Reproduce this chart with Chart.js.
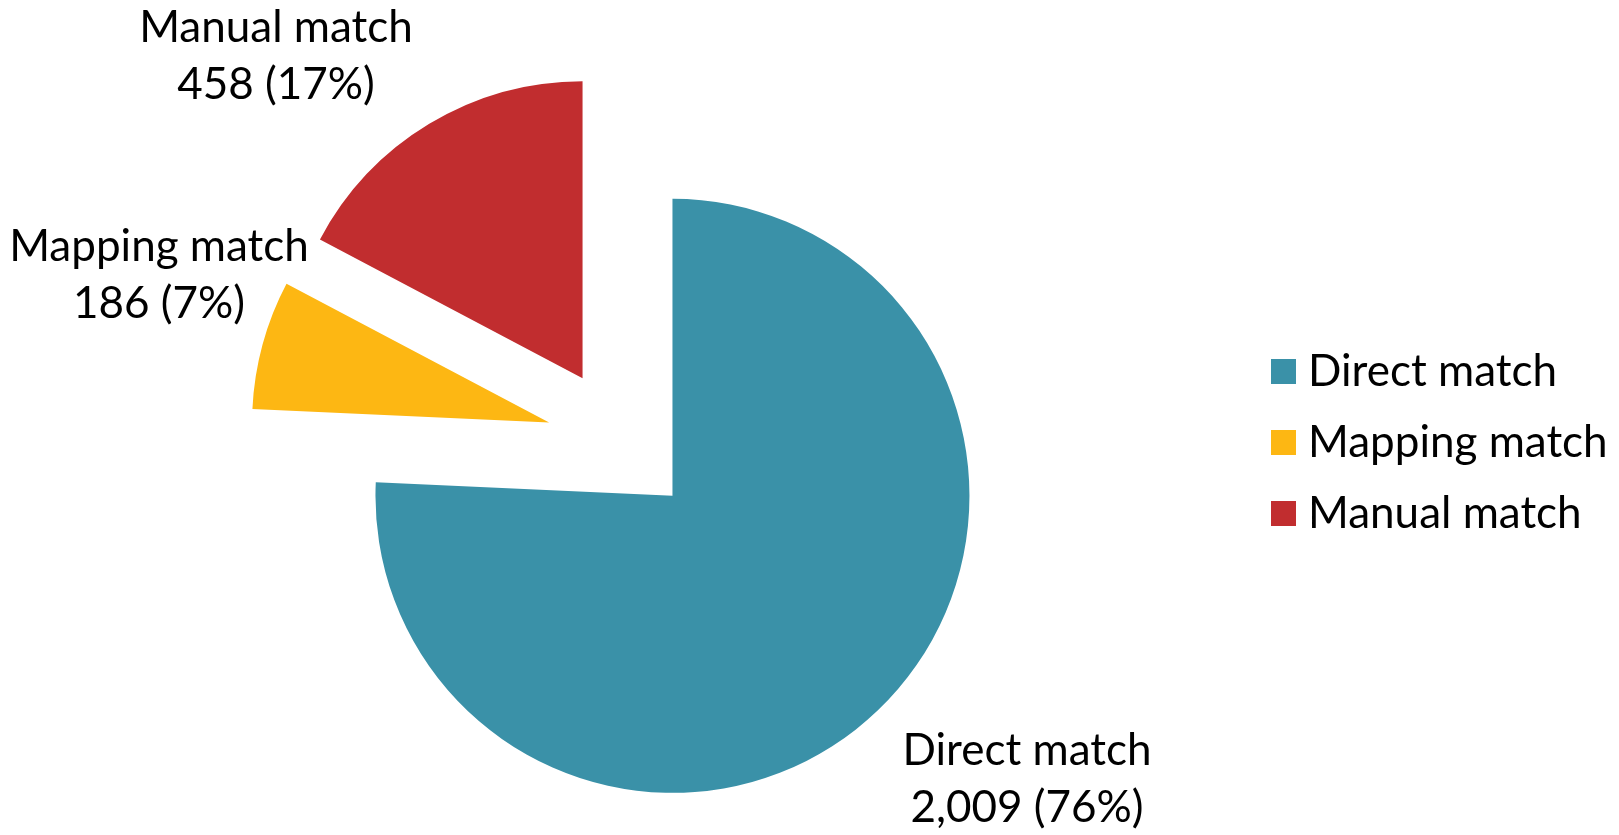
<!DOCTYPE html>
<html>
<head>
<meta charset="utf-8">
<script src="https://cdn.jsdelivr.net/npm/chart.js@4/dist/chart.umd.min.js"></script>
<style>
    html, body { margin: 0; padding: 0; background: #fff; }
    #wrap { width: 1619px; height: 835px; position: relative; }
</style>
</head>
<body>
<div id="wrap"><canvas id="matchChart"></canvas></div>
<script>
const categories = ['Direct match', 'Mapping match', 'Manual match'];
const matchCounts = [2009, 186, 458];
const sliceColors = ['#3A91A8', '#FDB713', '#C12D2F'];

const FONT = '44px Lato, "Open Sans", sans-serif';
const EXPLODE = 74.5;
const total = matchCounts.reduce((a, b) => a + b, 0);

// every slice pulled out from the centre along its mid angle
const explodePlugin = {
    id: 'explode',
    beforeDatasetDraw(chart, args) {
        const ctx = chart.ctx;
        args.meta.data.forEach((arc) => {
            const mid = (arc.startAngle + arc.endAngle) / 2;
            ctx.save();
            ctx.translate(Math.cos(mid) * EXPLODE, Math.sin(mid) * EXPLODE);
            arc.draw(ctx);
            ctx.restore();
        });
        return false;
    }
};

// outside labels, placed relative to the pie centre
const labelOffsets = [[406, 336], [-462, -168], [-345, -387]];
const sliceLabels = {
    id: 'sliceLabels',
    afterDatasetsDraw(chart) {
        const ctx = chart.ctx;
        const meta = chart.getDatasetMeta(0);
        ctx.save();
        ctx.font = FONT;
        ctx.fillStyle = '#000';
        ctx.textAlign = 'center';
        ctx.textBaseline = 'alphabetic';
        meta.data.forEach((arc, i) => {
            const cx = arc.x + labelOffsets[i][0];
            const cy = arc.y + labelOffsets[i][1];
            const v = matchCounts[i];
            const pct = Math.round(v / total * 100);
            ctx.fillText(categories[i], cx, cy - 13);
            ctx.fillText(v.toLocaleString('en-US') + ' (' + pct + '%)', cx, cy + 44);
        });
        ctx.restore();
    }
};

const legendRight = {
    id: 'legendRight',
    afterDraw(chart) {
        const ctx = chart.ctx;
        ctx.save();
        ctx.font = FONT;
        ctx.textAlign = 'left';
        ctx.textBaseline = 'alphabetic';
        categories.forEach((name, i) => {
            const y = 371.5 + i * 71;
            ctx.fillStyle = sliceColors[i];
            ctx.fillRect(1271, y - 12.5, 25, 25);
            ctx.fillStyle = '#000';
            ctx.fillText(name, 1308, y + 14);
        });
        ctx.restore();
    }
};

new Chart(document.getElementById('matchChart').getContext('2d'), {
    type: 'pie',
    data: {
        labels: categories,
        datasets: [{
            data: matchCounts,
            backgroundColor: sliceColors,
            borderWidth: 0
        }]
    },
    options: {
        responsive: true,
        maintainAspectRatio: false,
        animation: false,
        radius: 297,
        layout: { padding: { left: 0, right: 377, top: 49, bottom: 0 } },
        plugins: {
            legend: { display: false },
            tooltip: { enabled: false }
        }
    },
    plugins: [explodePlugin, sliceLabels, legendRight]
});
</script>
</body>
</html>
